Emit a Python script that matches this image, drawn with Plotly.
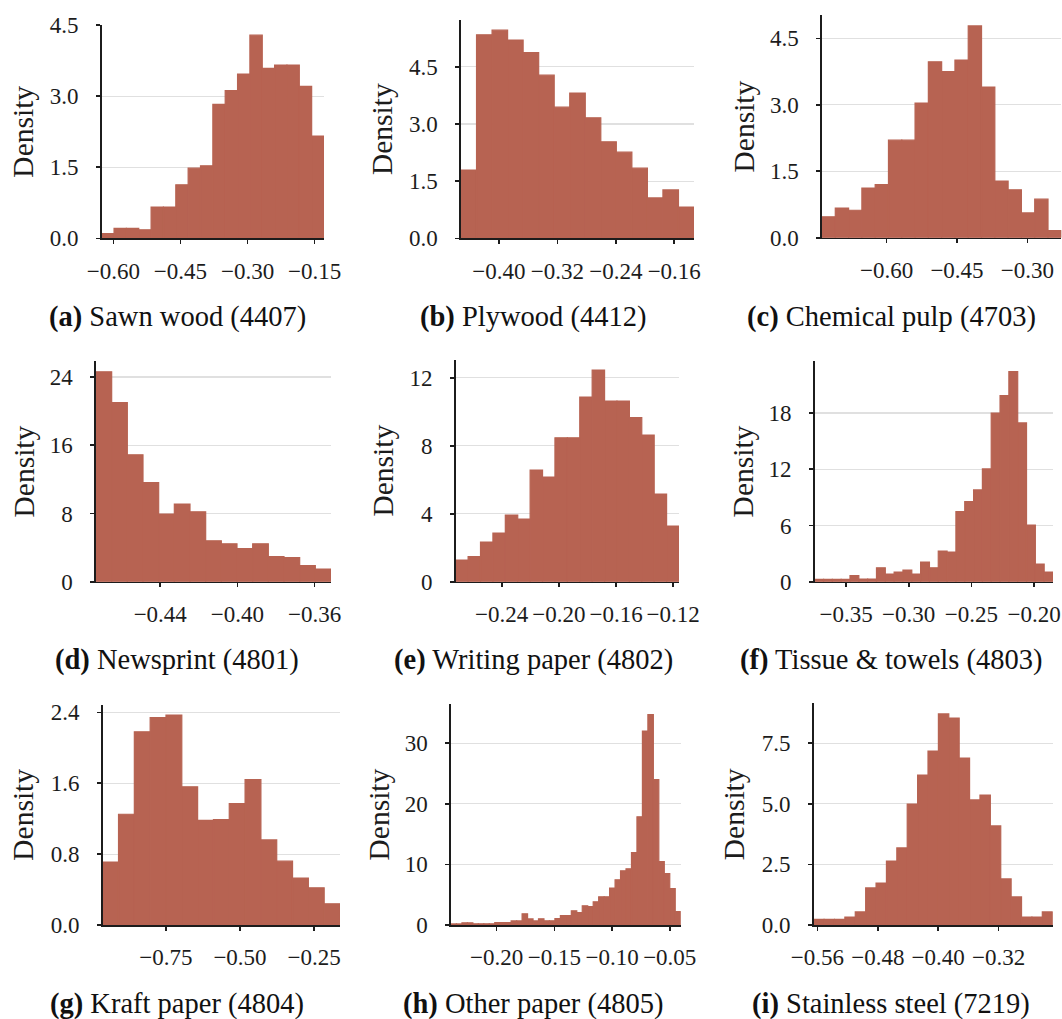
import plotly.graph_objects as go

W, H = 1062, 1019
BAR_COLOR = "#b76352"
INK = "#1c1c1c"
FONT = "'Liberation Serif', 'Times New Roman', 'DejaVu Serif', serif"

# ---------------- data (density per histogram bin) ----------------
a_start, a_width = -0.626, 0.0276
a_density = [0.10, 0.21, 0.21, 0.18, 0.66, 0.66, 1.13, 1.48, 1.53, 2.83, 3.12, 3.47,
             4.29, 3.59, 3.66, 3.66, 3.21, 2.16]

b_start, b_width = -0.452, 0.02127
b_density = [1.79, 5.34, 5.46, 5.20, 4.87, 4.28, 3.44, 3.81, 3.16, 2.53, 2.26, 1.84,
             1.06, 1.27, 0.82]

c_start, c_width = -0.738, 0.02836
c_density = [0.47, 0.67, 0.62, 1.12, 1.20, 2.20, 2.20, 3.04, 3.97, 3.75, 4.01, 4.78,
             3.40, 1.28, 1.08, 0.56, 0.87, 0.16]

d_start, d_width = -0.4733, 0.00812
d_density = [24.6, 20.98, 14.88, 11.6, 7.93, 9.1, 8.2, 4.8, 4.45, 3.87, 4.45, 2.93,
             2.81, 1.88, 1.48]

e_start, e_width = -0.2722, 0.00868
e_density = [1.27, 1.47, 2.33, 2.86, 3.92, 3.69, 6.57, 6.16, 8.47, 8.47, 10.86, 12.45,
             10.63, 10.63, 9.65, 8.63, 5.16, 3.27]

f_start, f_width = -0.375, 0.00704
f_density = [0.25, 0.25, 0.25, 0.25, 0.64, 0.28, 0.28, 1.49, 0.82, 1.03, 1.25, 0.82,
             2.10, 1.49, 3.27, 3.17, 7.47, 8.54, 9.79, 12.03, 18.0, 19.86, 22.42, 16.94,
             6.05, 1.89, 1.03]

g_start, g_width = -0.9635, 0.0534
g_density = [0.71, 1.25, 2.18, 2.34, 2.37, 1.56, 1.18, 1.19, 1.37, 1.64, 0.96, 0.72,
             0.53, 0.42, 0.24]

h_start, h_width = -0.2396, 0.00474
h_density = [0.18, 0.18, 0.36, 0.36, 0.20, 0.20, 0.20, 0.20, 0.38, 0.38, 0.38, 0.68,
             0.68, 1.85, 1.00, 0.68, 1.02, 0.70, 0.70, 1.05, 1.55, 1.55, 2.35, 2.05,
             3.17, 3.04, 3.82, 4.65, 4.65, 6.10, 7.45, 8.95, 9.28, 11.95, 17.85, 32.0,
             34.73, 24.0, 10.47, 8.48, 6.02, 2.22]

i_start, i_width = -0.5649, 0.01376
i_density = [0.23, 0.23, 0.23, 0.33, 0.54, 1.53, 1.73, 2.64, 3.18, 4.99, 6.19, 7.18,
             8.71, 8.54, 6.89, 5.16, 5.36, 4.09, 1.90, 1.16, 0.33, 0.33, 0.54]

# tick values / labels
a_xticks = [-0.60, -0.45, -0.30, -0.15]
b_xticks = [-0.40, -0.32, -0.24, -0.16]
c_xticks = [-0.60, -0.45, -0.30]
d_xticks = [-0.44, -0.40, -0.36]
e_xticks = [-0.24, -0.20, -0.16, -0.12]
f_xticks = [-0.35, -0.30, -0.25, -0.20]
g_xticks = [-0.75, -0.50, -0.25]
h_xticks = [-0.20, -0.15, -0.10, -0.05]
i_xticks = [-0.56, -0.48, -0.40, -0.32]

a_yticks = [0.0, 1.5, 3.0, 4.5]
b_yticks = [0.0, 1.5, 3.0, 4.5]
c_yticks = [0.0, 1.5, 3.0, 4.5]
d_yticks = [0, 8, 16, 24]
e_yticks = [0, 4, 8, 12]
f_yticks = [0, 6, 12, 18]
g_yticks = [0.0, 0.8, 1.6, 2.4]
h_yticks = [0, 10, 20, 30]
i_yticks = [0.0, 2.5, 5.0, 7.5]

captions = ["<b>(a)</b> Sawn wood (4407)", "<b>(b)</b> Plywood (4412)",
            "<b>(c)</b> Chemical pulp (4703)", "<b>(d)</b> Newsprint (4801)",
            "<b>(e)</b> Writing paper (4802)", "<b>(f)</b> Tissue &amp; towels (4803)",
            "<b>(g)</b> Kraft paper (4804)", "<b>(h)</b> Other paper (4805)",
            "<b>(i)</b> Stainless steel (7219)"]

# ---------------- layout geometry (pixels: left, top, right, bottom) ----------------
boxes = [
    [101.7, 25.0, 324.0, 238.3],
    [461.0, 19.8, 694.0, 238.3],
    [822.0, 15.3, 1061.3, 237.7],
    [96.0, 361.3, 331.0, 581.7],
    [455.7, 359.5, 679.0, 581.7],
    [814.7, 361.1, 1053.0, 581.7],
    [102.7, 704.5, 340.0, 925.0],
    [451.0, 704.0, 680.7, 925.0],
    [813.7, 703.4, 1052.7, 925.0],
]
ylabel_x = [23, 382, 743, 23, 383, 743, 23, 378, 734]
caption_x = [177, 533, 891] * 3
caption_y = [317] * 3 + [660] * 3 + [1003.5] * 3


def fmt_x(v):
    s = f"{abs(v):.2f}"
    return ("\u2212" + s) if v < 0 else s


def fmt_y(vals):
    if not isinstance(vals[0], float):
        return [f"{int(v)}" for v in vals]
    return [f"{v:.1f}" for v in vals]


panels = [
    (a_start, a_width, a_density, a_xticks, a_yticks),
    (b_start, b_width, b_density, b_xticks, b_yticks),
    (c_start, c_width, c_density, c_xticks, c_yticks),
    (d_start, d_width, d_density, d_xticks, d_yticks),
    (e_start, e_width, e_density, e_xticks, e_yticks),
    (f_start, f_width, f_density, f_xticks, f_yticks),
    (g_start, g_width, g_density, g_xticks, g_yticks),
    (h_start, h_width, h_density, h_xticks, h_yticks),
    (i_start, i_width, i_density, i_xticks, i_yticks),
]

fig = go.Figure()
layout = dict(
    template="none",
    width=W, height=H,
    margin=dict(l=0, r=0, t=0, b=0, pad=0, autoexpand=False),
    paper_bgcolor="white", plot_bgcolor="white",
    bargap=0, showlegend=False,
    font=dict(family=FONT, color=INK, size=23),
)
annotations = []

for k, (start, width, dens, xt, yt) in enumerate(panels):
    n = k + 1
    suffix = "" if n == 1 else str(n)
    centers = [start + width * (j + 0.5) for j in range(len(dens))]
    fig.add_trace(go.Bar(
        x=centers, y=dens, width=[width] * len(dens),
        marker=dict(color=BAR_COLOR, line=dict(color=BAR_COLOR, width=1.2)),
        hoverinfo="skip", xaxis="x" + suffix, yaxis="y" + suffix,
    ))
    left, top, right, bottom = boxes[k]
    ymax = max(dens) * 1.05
    xmax = start + width * len(dens)
    layout["xaxis" + suffix] = dict(
        domain=[left / W, right / W], anchor="y" + suffix,
        range=[start, xmax], showgrid=False, zeroline=False, automargin=False,
        showline=True, linecolor=INK, linewidth=1.6,
        ticks="outside", ticklen=4, tickwidth=1.6, tickcolor=INK,
        tickvals=xt, ticktext=[fmt_x(v) for v in xt],
        tickfont=dict(family=FONT, size=23, color=INK),
        ticklabelstandoff=7, fixedrange=True,
    )
    layout["yaxis" + suffix] = dict(
        domain=[1 - bottom / H, 1 - top / H], anchor="x" + suffix,
        range=[0, ymax], showgrid=True, gridcolor="#e0e0e0", gridwidth=1.2,
        zeroline=False, showline=True, linecolor=INK, linewidth=1.6, automargin=False,
        ticks="outside", ticklen=4, tickwidth=1.6, tickcolor=INK,
        tickvals=yt, ticktext=fmt_y(yt),
        tickfont=dict(family=FONT, size=23, color=INK),
        ticklabelstandoff=13, fixedrange=True,
    )
    annotations.append(dict(
        text="Density", textangle=-90, showarrow=False,
        xref="paper", yref="paper",
        x=ylabel_x[k] / W, y=1 - (top + bottom) / 2 / H,
        xanchor="center", yanchor="middle",
        font=dict(family=FONT, size=29.5, color=INK),
    ))
    annotations.append(dict(
        text=captions[k], showarrow=False,
        xref="paper", yref="paper",
        x=caption_x[k] / W, y=1 - caption_y[k] / H,
        xanchor="center", yanchor="middle",
        font=dict(family=FONT, size=28.5, color="#111111"),
    ))

layout["annotations"] = annotations
fig.update_layout(**layout)

fig.write_html("out.html", config={"displayModeBar": False, "staticPlot": True},
               post_script="document.body.style.margin='0';document.body.style.overflow='hidden';")
